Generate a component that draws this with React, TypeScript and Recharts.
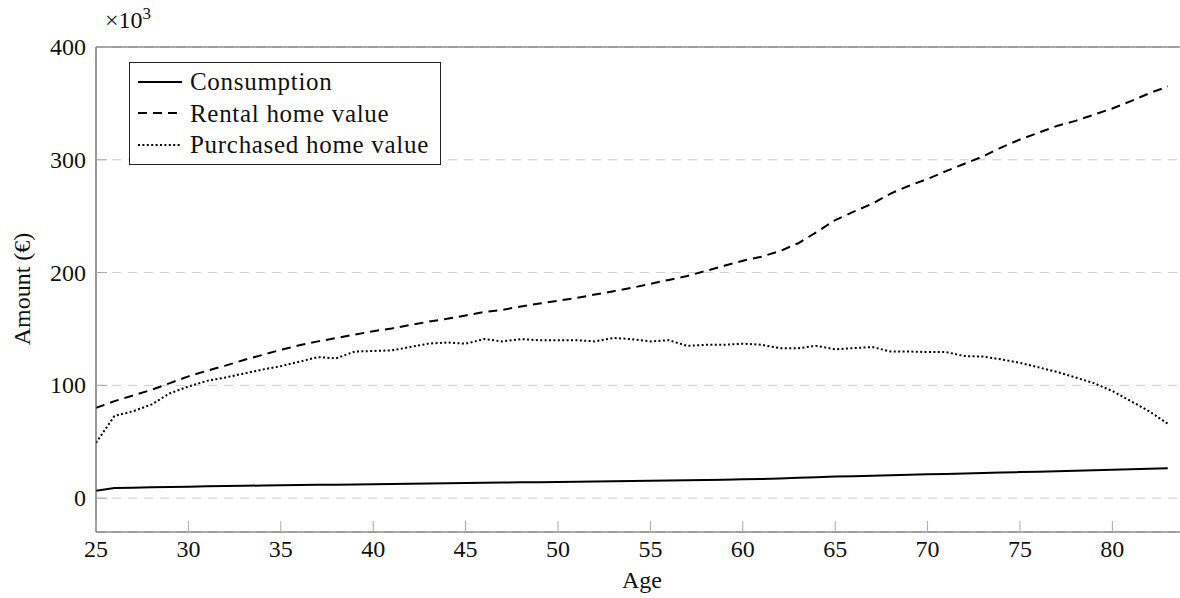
import { LineChart, Line, XAxis, YAxis, CartesianGrid, ReferenceLine } from 'recharts';

// ages 25..83
const ages = [
  25, 26, 27, 28, 29, 30, 31, 32, 33, 34, 35, 36, 37, 38, 39, 40, 41, 42, 43, 44,
  45, 46, 47, 48, 49, 50, 51, 52, 53, 54, 55, 56, 57, 58, 59, 60, 61, 62, 63, 64,
  65, 66, 67, 68, 69, 70, 71, 72, 73, 74, 75, 76, 77, 78, 79, 80, 81, 82, 83,
];

// values in thousands of euros
const consumption = [
  6.5, 9, 9.3, 9.6, 9.9, 10.2, 10.5, 10.7, 11, 11.2, 11.4, 11.6, 11.8, 12, 12.2, 12.4, 12.6, 12.8, 13, 13.2,
  13.4, 13.6, 13.8, 14, 14.2, 14.4, 14.6, 14.8, 15, 15.2, 15.4, 15.6, 15.8, 16.1, 16.4, 16.7, 17, 17.5, 18, 18.6,
  19.1, 19.5, 19.9, 20.3, 20.7, 21.1, 21.5, 21.9, 22.3, 22.7, 23.1, 23.5, 23.9, 24.3, 24.7, 25.1, 25.6, 26.1, 26.6,
];

const rentalHome = [
  80, 86, 91, 96, 102, 108, 113, 117.5, 122.5, 127, 131.5, 135.5, 139, 142, 145, 148, 150.5, 153.5, 156.5, 159,
  162, 165, 167, 170, 172.5, 175, 177.5, 180.5, 183.5, 186.5, 190, 193.5, 197, 201.5, 206, 210.5, 214, 219, 226, 236,
  246.5, 254, 261, 270, 277, 283, 290, 296.5, 303, 311, 318, 324, 330, 334.5, 340, 345.5, 352, 359, 365,
];

const purchasedHome = [
  49, 73, 77, 83, 93, 99, 104, 107, 110.5, 114, 117, 121, 125, 124, 130, 130.5, 131, 134, 137, 138,
  137, 141, 139, 141, 140, 140, 140, 139, 142, 141, 139, 140, 135, 136, 136, 137, 136, 133, 133, 135,
  132, 133, 134, 130, 130, 129.5, 129.5, 126, 125.5, 123, 120, 116, 112, 107, 102, 95, 86, 77, 66,
];

const xTicks = [25, 30, 35, 40, 45, 50, 55, 60, 65, 70, 75, 80];
const yTicks = [0, 100, 200, 300, 400];

const seriesInfo = [
  { key: 'consumption', label: 'Consumption', dash: undefined as string | undefined },
  { key: 'rental', label: 'Rental home value', dash: '9 6' },
  { key: 'purchased', label: 'Purchased home value', dash: '2 2.4' },
];

const data = ages.map((age, i) => ({
  age,
  consumption: consumption[i],
  rental: rentalHome[i],
  purchased: purchasedHome[i],
}));

const FONT = '"Liberation Serif", "DejaVu Serif", serif';

// ticks point inward, labels outside
const XTick = (props: any) => {
  const { x, y, payload } = props;
  return (
    <g>
      <line x1={x} x2={x} y1={y} y2={y - 11} stroke="#aaa" />
      <text x={x} y={y + 25} textAnchor="middle" fontSize={24} fill="#111" fontFamily={FONT}>
        {payload.value}
      </text>
    </g>
  );
};

const YTick = (props: any) => {
  const { x, y, payload } = props;
  return (
    <g>
      <line x1={x} x2={x + 11} y1={y} y2={y} stroke="#aaa" />
      <text x={x - 10} y={y + 8} textAnchor="end" fontSize={24} fill="#111" fontFamily={FONT}>
        {payload.value}
      </text>
    </g>
  );
};

const LegendBox = () => (
  <div
    style={{
      position: 'absolute',
      left: 129,
      top: 62,
      width: 290,
      border: '1px solid #222',
      background: '#fff',
      padding: '3px 12px 3px 8px',
      fontFamily: FONT,
      fontSize: 25,
      letterSpacing: 0.7,
      color: '#111',
      lineHeight: '31.5px',
    }}
  >
    {seriesInfo.map((s) => (
      <div key={s.key} style={{ display: 'flex', alignItems: 'center', whiteSpace: 'nowrap' }}>
        <svg width={44} height={10} style={{ marginRight: 8, flex: 'none' }}>
          <line x1={0} x2={44} y1={5} y2={5} stroke="#000" strokeWidth={2} strokeDasharray={s.dash} />
        </svg>
        <span>{s.label}</span>
      </div>
    ))}
  </div>
);

export default function App() {
  return (
    <div style={{ position: 'absolute', left: 0, top: 0, width: 1180, height: 598, background: '#fff' }}>
      <LineChart
        width={1180}
        height={598}
        data={data}
        margin={{ top: 47, right: 0, bottom: 0, left: 0 }}
        style={{ fontFamily: FONT }}
      >
        <CartesianGrid vertical={false} stroke="#cccccc" strokeDasharray="9 7" />
        <XAxis
          dataKey="age"
          type="number"
          domain={[25, 83.66]}
          ticks={xTicks}
          allowDataOverflow
          height={66}
          tickSize={0}
          tickMargin={0}
          tickLine={false}
          tick={<XTick />}
          axisLine={{ stroke: '#555', strokeWidth: 1.2 }}
          interval={0}
        />
        <YAxis
          type="number"
          domain={[-30, 400]}
          ticks={yTicks}
          allowDataOverflow
          width={96}
          tickSize={0}
          tickMargin={0}
          tickLine={false}
          tick={<YTick />}
          axisLine={{ stroke: '#555', strokeWidth: 1.2 }}
          interval={0}
        />
        <ReferenceLine y={400} stroke="#555" strokeWidth={1.2} />
        <Line
          type="linear"
          dataKey="consumption"
          stroke="#000"
          strokeWidth={2}
          dot={false}
          isAnimationActive={false}
        />
        <Line
          type="linear"
          dataKey="rental"
          stroke="#000"
          strokeWidth={2}
          strokeDasharray="9 6"
          dot={false}
          isAnimationActive={false}
        />
        <Line
          type="linear"
          dataKey="purchased"
          stroke="#000"
          strokeWidth={2}
          strokeDasharray="2 2.4"
          dot={false}
          isAnimationActive={false}
        />
      </LineChart>
      <LegendBox />
      <div
        style={{
          position: 'absolute',
          left: 105,
          top: 8,
          fontFamily: FONT,
          fontSize: 24,
          color: '#111',
          lineHeight: '24px',
        }}
      >
        ×10<sup style={{ fontSize: 17, verticalAlign: 'top', position: 'relative', top: -6 }}>3</sup>
      </div>
      <div
        style={{
          position: 'absolute',
          left: 642,
          top: 580,
          transform: 'translate(-50%, -50%)',
          fontFamily: FONT,
          fontSize: 24,
          color: '#111',
          whiteSpace: 'nowrap',
        }}
      >
        Age
      </div>
      <div
        style={{
          position: 'absolute',
          left: 22,
          top: 289,
          transform: 'translate(-50%, -50%) rotate(-90deg)',
          fontFamily: FONT,
          fontSize: 24,
          color: '#111',
          whiteSpace: 'nowrap',
        }}
      >
        Amount (€)
      </div>
    </div>
  );
}
